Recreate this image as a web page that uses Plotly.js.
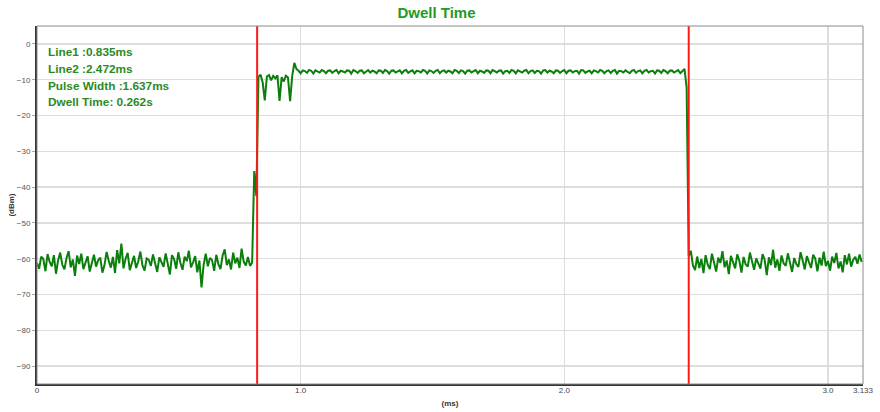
<!DOCTYPE html>
<html>
<head>
<meta charset="utf-8">
<script src="https://cdn.plot.ly/plotly-3.0.1.min.js"></script>
<style>html,body{margin:0;padding:0;background:#fff;}#chart{width:880px;height:412px;}</style>
</head>
<body>
<div id="chart"></div>
<script>
// sample spacing of the capture (ms)
const sampleStartMs = 0;
const sampleStepMs = 0.008;

// noise floor before the pulse (dBm)
const noiseBefore = [
-61.2,-62.8,-59.4,-60.1,-63.5,-58.7,-60.9,-62.1,-59.0,-64.2,
-60.5,-58.3,-61.7,-63.0,-59.8,-57.9,-62.4,-60.2,-64.8,-59.1,
-61.5,-58.6,-62.9,-60.7,-59.3,-63.6,-61.0,-58.9,-62.2,-60.4,
-59.7,-63.9,-61.8,-58.1,-60.6,-62.5,-59.5,-64.0,-57.6,-61.3,
-55.8,-62.7,-60.0,-58.4,-63.2,-61.1,-59.2,-62.6,-60.8,-58.0,
-61.9,-63.3,-59.9,-60.3,-62.0,-58.8,-61.4,-63.7,-59.6,-60.9,
-62.3,-58.5,-61.6,-64.4,-59.0,-60.1,-62.8,-58.2,-61.2,-63.1,
-59.4,-60.7,-57.8,-62.4,-61.0,-59.3,-63.8,-60.5,-68.0,-61.7,
-58.6,-62.1,-59.8,-60.4,-63.4,-58.9,-61.5,-62.9,-59.1,-57.4,
-61.8,-60.2,-63.0,-58.3,-61.3,-59.7,-62.6,-57.2,-60.8,-61.9,
-59.5,-62.0,-61.1
];
// rising edge
const risingEdge = [-35.5,-42.5,-9.2];
// settling at start of pulse
const pulseSettle = [
-8.6,-10.8,-15.8,-9.1,-8.7,-10.2,-8.9,-9.6,-8.8,-15.9,
-9.3,-10.5,-8.9,-9.4,-16.0,-9.0,-5.3,-7.0
];
// pulse top
const pulseTop = [
-7.5,-8.2,-7.4,-7.6,-8.1,-7.3,-7.5,-8.3,-7.4,-7.7,
-8.0,-7.3,-7.6,-8.2,-7.5,-7.4,-8.1,-7.6,-7.3,-8.2,
-7.5,-7.7,-8.0,-7.4,-7.5,-8.3,-7.3,-7.6,-8.1,-7.5,
-7.4,-8.2,-7.6,-7.3,-8.0,-7.5,-7.7,-8.2,-7.4,-7.5,
-8.1,-7.3,-7.6,-8.3,-7.5,-7.4,-8.0,-7.6,-7.4,-8.2,
-7.5,-7.3,-8.1,-7.7,-7.4,-8.2,-7.5,-7.6,-8.0,-7.3,
-7.5,-8.3,-7.4,-7.6,-8.1,-7.5,-7.3,-8.2,-7.6,-7.4,
-8.0,-7.5,-7.7,-8.2,-7.3,-7.5,-8.1,-7.4,-7.6,-8.3,
-7.5,-7.4,-8.0,-7.6,-7.3,-8.2,-7.5,-7.7,-8.1,-7.4,
-7.5,-8.2,-7.3,-7.6,-8.0,-7.5,-7.4,-8.3,-7.6,-7.5,
-8.1,-7.3,-7.5,-8.2,-7.4,-7.7,-8.0,-7.5,-7.3,-8.2,
-7.6,-7.4,-8.1,-7.5,-7.6,-8.3,-7.4,-7.3,-8.0,-7.5,
-7.7,-8.2,-7.4,-7.5,-8.1,-7.6,-7.3,-8.2,-7.5,-7.4,
-8.0,-7.6,-7.5,-8.3,-7.3,-7.4,-8.1,-7.7,-7.5,-8.2,
-7.4,-7.6,-8.0,-7.3,-7.5,-8.2,-7.6,-7.4,-8.1,-7.5,
-7.3,-8.3,-7.5,-7.6,-8.0,-7.4,-7.7,-8.2,-7.5,-7.3,
-8.1,-7.6,-7.4,-8.2,-7.5,-7.3,-8.0,-7.6,-7.5,-8.3,
-7.4,-7.5,-8.1,-7.3,-7.6,-8.2,-7.5,-7.4,-8.0,-7.6,
-7.3,-8.2,-7.5
];
// falling edge
const fallingEdge = [-7.0,-12.2,-59.3];
// noise floor after the pulse
const noiseAfter = [
-57.8,-61.9,-63.2,-59.4,-62.6,-60.1,-64.0,-59.0,-61.7,-62.9,
-58.6,-60.8,-63.6,-59.7,-61.2,-57.9,-62.4,-60.5,-64.3,-59.2,
-61.0,-62.7,-58.8,-60.6,-63.9,-59.5,-61.6,-62.2,-58.3,-60.9,
-63.1,-59.9,-61.4,-62.8,-58.7,-60.3,-64.6,-59.6,-61.8,-57.5,
-62.5,-60.2,-63.4,-59.1,-61.3,-62.0,-58.5,-60.7,-63.7,-59.8,
-61.5,-62.3,-58.2,-60.4,-63.0,-59.3,-61.1,-62.6,-58.9,-60.0,
-63.5,-59.7,-61.9,-58.0,-62.1,-60.6,-63.3,-59.4,-61.2,-58.4,
-62.7,-60.8,-63.8,-59.0,-61.6,-58.6,-62.2,-60.3,-59.5,-61.4,
-58.8,-60.9
];

// marker lines (ms)
const markerLines = [0.835, 2.472];
const infoLines = ["Line1 :0.835ms", "Line2 :2.472ms", "Pulse Width :1.637ms", "Dwell Time: 0.262s"];

// axis ticks
const xTickVals = [0, 1, 2, 3, 3.133];
const xTickText = ["0", "1.0", "2.0", "3.0", "3.133"];
const yTickVals = [0, -10, -20, -30, -40, -50, -60, -70, -80, -90];

const dwellDbm = [].concat(noiseBefore, risingEdge, pulseSettle, pulseTop, fallingEdge, noiseAfter);

const trace = {
  type: 'scatter', mode: 'lines',
  y: dwellDbm, x0: sampleStartMs, dx: sampleStepMs,
  line: {color: '#0b7f0b', width: 2},
  hoverinfo: 'skip', showlegend: false
};

const shapes = markerLines.map(v => ({
  type: 'line', xref: 'x', yref: 'paper', x0: v, x1: v, y0: 0, y1: 1,
  line: {color: '#ff1a1a', width: 2}, layer: 'above'
}));
shapes.push({type: 'rect', xref: 'paper', yref: 'paper', x0: 0, x1: 1, y0: 0, y1: 1,
  line: {color: '#8a8a8a', width: 1}, layer: 'above'});

const font = 'Arial, "Liberation Sans", sans-serif';

const infoAnnotations = infoLines.map((s, i) => ({
  xref: 'paper', yref: 'paper', x: 0.011, y: 0.926 - i * 0.0465,
  xanchor: 'left', yanchor: 'middle', align: 'left', showarrow: false,
  text: '<b>' + s + '</b>',
  font: {family: font, size: 11.8, color: '#2b8a1f'}
}));

const layout = {
  width: 880, height: 412,
  margin: {l: 37, r: 17, t: 26, b: 28},
  paper_bgcolor: '#fff', plot_bgcolor: '#fff',
  title: {text: '<b>Dwell Time</b>', font: {family: font, size: 15, color: '#239b23'}, x: 0.496, xanchor: 'center', y: 0.982, yanchor: 'top'},
  xaxis: {
    range: [0, 3.133], tickvals: xTickVals, ticktext: xTickText,
    tickfont: {family: '"Liberation Sans Narrow", ' + font, size: 8, color: '#444'},
    showgrid: true, gridcolor: '#dddddd', gridwidth: 1.5,
    showline: true, linecolor: '#333', linewidth: 2,
    zeroline: false, ticks: '', ticklen: 0, ticklabelstandoff: -3,
    title: {text: '<b>(ms)</b>', font: {family: font, size: 8, color: '#333'}, standoff: 7}
  },
  yaxis: {
    range: [-95, 5], tickvals: yTickVals,
    tickfont: {family: font, size: 8, color: '#555'},
    showgrid: true, gridcolor: '#dddddd', gridwidth: 1.5,
    showline: true, linecolor: '#333', linewidth: 2,
    zeroline: false, ticks: 'outside', ticklen: 3, tickcolor: '#aaa',
    title: {text: '<b>(dBm)</b>', font: {family: font, size: 8, color: '#333'}, standoff: 1}
  },
  shapes: shapes,
  annotations: infoAnnotations
};

Plotly.newPlot('chart', [trace], layout, {staticPlot: true, displayModeBar: false});
</script>
</body>
</html>
